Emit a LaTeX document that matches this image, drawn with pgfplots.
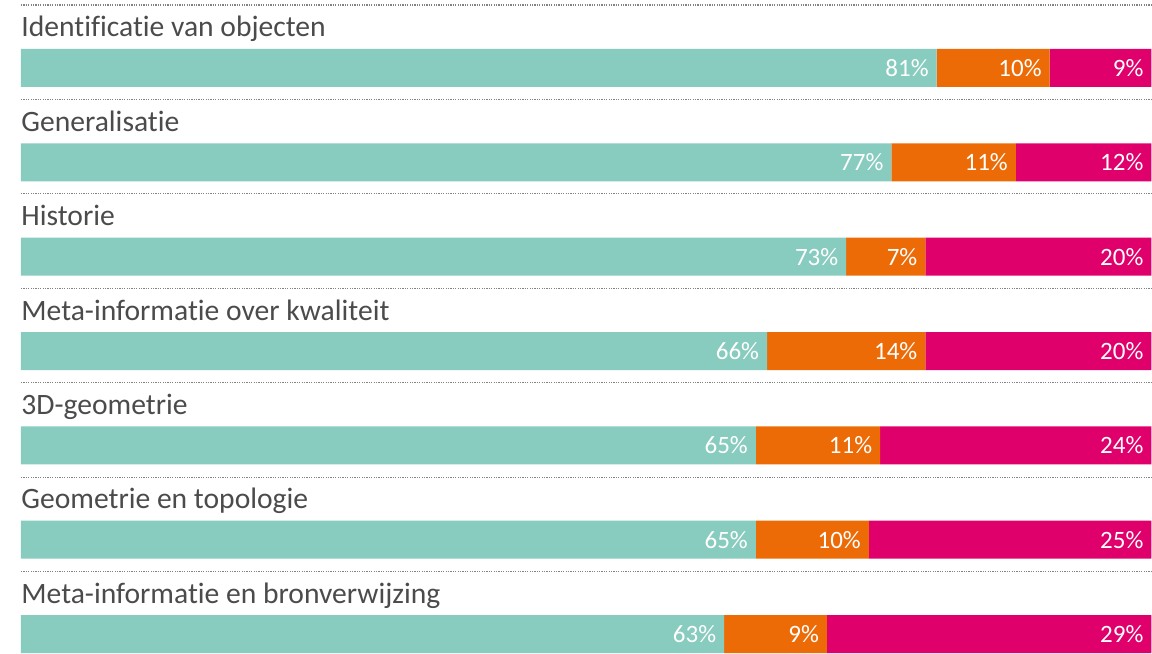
\documentclass[border=0pt]{standalone}
\usepackage{fontspec}
\setmainfont{Carlito}[Ligatures=NoCommon]
\usepackage{pgfplots}
\usepackage{pgfplotstable}
\pgfplotsset{compat=1.18}

\definecolor{teal1}{RGB}{136,203,191}
\definecolor{oran1}{RGB}{236,107,6}
\definecolor{mag1}{RGB}{224,0,108}
\definecolor{txt}{RGB}{75,75,75}
\definecolor{dots}{RGB}{130,130,130}

% y = centre of bar in pixels from top; t/o/p = drawn widths, tl/ol/pl = printed labels
\pgfplotstableread{
y     t    o    p    tl ol pl
68.0  81   10   9    81 10 9
162.4 77   11   12   77 11 12
256.8 73   7    20   73 7  20
351.2 66   14   20   66 14 20
445.6 65   11   24   65 11 24
540.0 65   10   25   65 10 25
634.4 62.2 9.1  28.7 63 9  29
}\data

\tikzset{lab/.style={anchor=base west, inner sep=0pt, text=txt, font=\fontsize{14.8bp}{18bp}\selectfont}}
\pgfplotsset{
    frame/.style={
        scale only axis,
        width=576bp, height=326.5bp,
        xmin=-1.857, xmax=100,
        ymin=0, ymax=653,
        y dir=reverse,
        hide axis,
        clip=false,
    },
    pct/.style={
        only marks, mark=none,
        point meta=explicit symbolic,
        nodes near coords={\pgfplotspointmeta\%},
        every node near coord/.append style={anchor=east, inner sep=0pt, xshift=-3.8bp, text=white, font=\fontsize{12.5bp}{14bp}\selectfont},
    },
}

\begin{document}
\begin{tikzpicture}
\begin{axis}[frame, xbar stacked, bar width=19bp]
\path (axis cs:-1.857,0) rectangle (axis cs:100,653);

\pgfplotsinvokeforeach{0,...,6}{
    \draw[dots, line width=0.6bp, dash pattern=on 0.6bp off 0.6bp] (axis cs:0,{5+94.5*#1}) -- (axis cs:100,{5+94.5*#1});
}

\addplot[draw=none, fill=teal1] table[x=t, y=y] {\data};
\addplot[draw=none, fill=oran1] table[x=o, y=y] {\data};
\addplot[draw=none, fill=mag1] table[x=p, y=y] {\data};

\node[lab] at (axis cs:0,37.0)  {Identificatie van objecten};
\node[lab] at (axis cs:0,131.4) {Generalisatie};
\node[lab] at (axis cs:0,225.8) {Historie};
\node[lab] at (axis cs:0,320.2) {Meta-informatie over kwaliteit};
\node[lab] at (axis cs:0,414.6) {3D-geometrie};
\node[lab] at (axis cs:0,509.0) {Geometrie en topologie};
\node[lab] at (axis cs:0,603.4) {Meta-informatie en bronverwijzing};
\end{axis}

% percentage labels at the right end of each segment
\begin{axis}[frame]
\addplot[pct] table[x=t, y=y, meta=tl] {\data};
\addplot[pct] table[x expr=\thisrow{t}+\thisrow{o}, y=y, meta=ol] {\data};
\addplot[pct] table[x expr=\thisrow{t}+\thisrow{o}+\thisrow{p}, y=y, meta=pl] {\data};
\end{axis}
\end{tikzpicture}
\end{document}
